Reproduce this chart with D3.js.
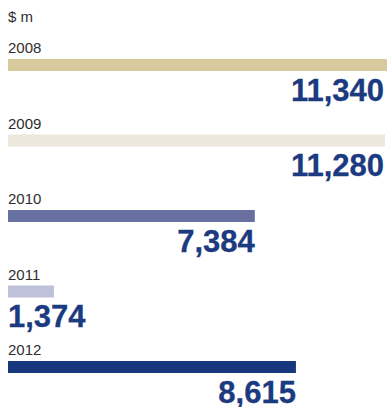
<!DOCTYPE html>
<html>
<head>
<meta charset="utf-8">
<script src="https://cdn.jsdelivr.net/npm/d3@7"></script>
<style>
  html, body { margin: 0; padding: 0; background: #ffffff; }
  svg { display: block; }
</style>
</head>
<body>
<script>
// Annual figures, $ m
const years = ["2008", "2009", "2010", "2011", "2012"];
const values = [11340, 11280, 7384, 1374, 8615];
const barColors = ["#d7c99c", "#ede6dd", "#6870a2", "#bfc0da", "#17387c"];
const unitLabel = "$ m";

const width = 389, height = 407;
const left = 8, right = 387;
const barH = 12;

const svg = d3.select("body").append("svg")
  .attr("width", width)
  .attr("height", height);

const x = d3.scaleLinear()
  .domain([0, d3.max(values)])
  .range([left, right]);

const y = d3.scalePoint()
  .domain(years)
  .range([59, 361]);

const fmt = d3.format(",");

svg.append("text")
  .attr("x", left)
  .attr("y", 21.5)
  .attr("font-family", "Liberation Sans, Arial, sans-serif")
  .attr("font-size", 15)
  .attr("fill", "#2e2e2e")
  .text(unitLabel);

const rows = years.map((yr, i) => ({ year: yr, value: values[i], color: barColors[i] }));

const g = svg.selectAll("g.row")
  .data(rows)
  .join("g")
  .attr("class", "row")
  .attr("transform", d => `translate(0,${y(d.year)})`);

// year caption above each bar
g.append("text")
  .attr("x", left)
  .attr("y", -6)
  .attr("font-family", "Liberation Sans, Arial, sans-serif")
  .attr("font-size", 15)
  .attr("fill", "#2e2e2e")
  .text(d => d.year);

g.append("rect")
  .attr("x", x(0))
  .attr("y", 0)
  .attr("width", d => x(d.value) - x(0))
  .attr("height", barH)
  .attr("fill", d => d.color);

// value label: right-aligned under the bar end, or left-aligned when the bar is too short
g.append("text")
  .attr("y", 41.5)
  .attr("font-family", "Liberation Sans, Arial, sans-serif")
  .attr("font-weight", "bold")
  .attr("font-size", 31)
  .attr("fill", "#1b3a80")
  .attr("stroke", "#1b3a80")
  .attr("stroke-width", 0.3)
  .each(function(d) {
    const end = x(d.value);
    const short = end - x(0) < 90;
    d3.select(this)
      .attr("x", short ? left : Math.min(end, right - 3))
      .attr("text-anchor", short ? "start" : "end")
      .text(fmt(d.value));
  });
</script>
</body>
</html>
